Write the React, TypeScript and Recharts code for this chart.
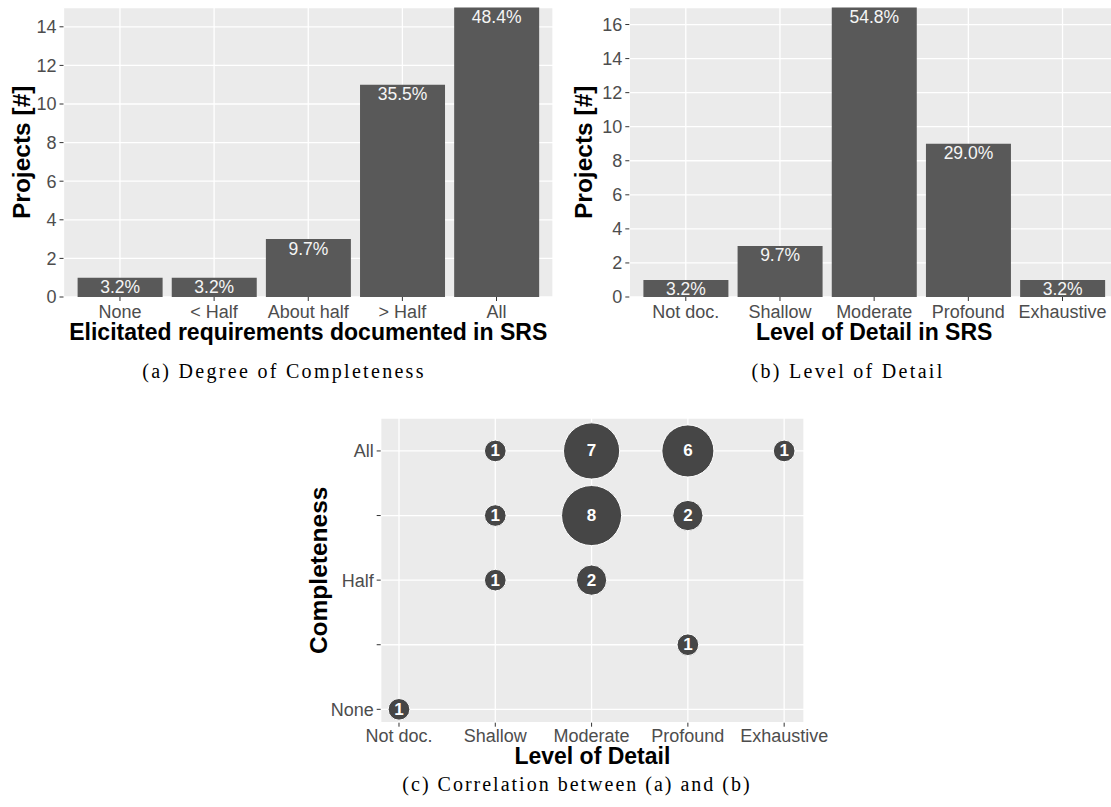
import React from "react";
import {
  BarChart,
  Bar,
  ScatterChart,
  Scatter,
  XAxis,
  YAxis,
  ZAxis,
  CartesianGrid,
  LabelList,
} from "recharts";

// (a) completeness
const completenessLevels = ["None", "< Half", "About half", "> Half", "All"];
const completenessCounts = [1, 1, 3, 11, 15];
const completenessTicks = [0, 2, 4, 6, 8, 10, 12, 14];

// (b) level of detail
const detailLevels = ["Not doc.", "Shallow", "Moderate", "Profound", "Exhaustive"];
const detailCounts = [1, 3, 17, 9, 1];
const detailTicks = [0, 2, 4, 6, 8, 10, 12, 14, 16];

// (c) correlation bubbles
const bubbleDetail = ["Shallow", "Moderate", "Profound", "Exhaustive", "Shallow", "Moderate", "Profound", "Shallow", "Moderate", "Profound", "Not doc."];
const bubbleCompleteness = ["All", "All", "All", "All", "> Half", "> Half", "> Half", "About half", "About half", "< Half", "None"];
const bubbleCounts = [1, 7, 6, 1, 1, 8, 2, 1, 2, 1, 1];
const bubbleYLabels = ["None", "", "Half", "", "All"];

const total = completenessCounts.reduce((a, b) => a + b, 0);
const pct = (v: number) => ((v / total) * 100).toFixed(1) + "%";

const dataA = completenessLevels.map((name, i) => ({
  name,
  count: completenessCounts[i],
  pct: pct(completenessCounts[i]),
}));
const dataB = detailLevels.map((name, i) => ({
  name,
  count: detailCounts[i],
  pct: pct(detailCounts[i]),
}));
const dataC = bubbleCounts.map((n, i) => ({
  x: detailLevels.indexOf(bubbleDetail[i]),
  y: completenessLevels.indexOf(bubbleCompleteness[i]),
  n,
}));

const SANS = "'Liberation Sans', Arial, Helvetica, sans-serif";
const SERIF = "'Liberation Serif', 'DejaVu Serif', serif";
const PANEL = "#EBEBEB";
const TICK = { fill: "#4D4D4D", fontSize: 18 };
const TITLE = { fill: "#000", fontSize: 23, fontWeight: "bold" as const };
const VTITLE = { ...TITLE, fontSize: 24.5, textAnchor: "middle" as const };

function Bubble(props: any) {
  const { cx, cy, width, size, payload } = props;
  const r = width ? width / 2 : Math.sqrt(size / Math.PI);
  return (
    <g>
      <circle cx={cx} cy={cy} r={r} fill="#464646" stroke="#fff" strokeWidth={1} />
      <text
        x={cx}
        y={cy}
        textAnchor="middle"
        dominantBaseline="central"
        fill="#fff"
        fontSize={17}
        fontWeight="bold"
      >
        {payload.n}
      </text>
    </g>
  );
}

function CountBars({ data, ticks, max, yWidth, titleX, xTitle, right }: any) {
  return (
    <BarChart
      width={560}
      height={350}
      data={data}
      margin={{ top: 350 - 53 - (297 - 7.5), right, left: 0, bottom: 0 }}
      barCategoryGap="5%"
    >
      <CartesianGrid fill={PANEL} fillOpacity={1} stroke="#fff" strokeWidth={1.3} />
      <XAxis
        dataKey="name"
        height={53}
        padding={{ left: 9.4, right: 9.4 }}
        axisLine={false}
        tickLine={{ stroke: "#333" }}
        tickSize={4}
        tickMargin={4}
        tick={TICK}
        interval={0}
        label={{ value: xTitle, position: "insideBottom", offset: 10.5, style: TITLE }}
      />
      <YAxis
        type="number"
        domain={[0, max]}
        ticks={ticks}
        width={yWidth}
        axisLine={false}
        tickLine={{ stroke: "#333" }}
        tickSize={4}
        tickMargin={3}
        tick={TICK}
        label={{
          value: "Projects [#]",
          angle: -90,
          position: "insideLeft",
          offset: titleX,
          style: VTITLE,
        }}
      />
      <Bar dataKey="count" fill="#595959" isAnimationActive={false}>
        <LabelList dataKey="pct" position="insideTop" offset={3} fill="#F5F5F5" fontSize={17.5} />
      </Bar>
    </BarChart>
  );
}

export default function App() {
  return (
    <div
      style={{
        position: "absolute",
        left: 0,
        top: 0,
        width: 1111,
        height: 807,
        overflow: "hidden",
        background: "#fff",
        fontFamily: SANS,
      }}
    >
      <div style={{ position: "absolute", left: 0, top: 0 }}>
        <CountBars
          data={dataA}
          ticks={completenessTicks}
          max={15}
          yWidth={63.5}
          titleX={21}
          right={7}
          xTitle="Elicitated requirements documented in SRS"
        />
      </div>
      <div style={{ position: "absolute", left: 560, top: 0 }}>
        <CountBars
          data={dataB}
          ticks={detailTicks}
          max={17}
          yWidth={69.3}
          titleX={23.5}
          right={1}
          xTitle="Level of Detail in SRS"
        />
      </div>
      <div style={{ position: "absolute", left: 290, top: 400 }}>
        <ScatterChart width={570} height={380} margin={{ top: 18, right: 56, left: 0, bottom: 0 }}>
          <CartesianGrid fill={PANEL} fillOpacity={1} stroke="#fff" strokeWidth={1.3} />
          <XAxis
            type="number"
            dataKey="x"
            domain={[-0.19, 4.206]}
            ticks={[0, 1, 2, 3, 4]}
            tickFormatter={(v: number) => detailLevels[v]}
            allowDataOverflow
            height={57.3}
            axisLine={false}
            tickLine={{ stroke: "#333" }}
            tickSize={4}
            tickMargin={3}
            tick={TICK}
            interval={0}
            label={{ value: "Level of Detail", position: "insideBottom", offset: 16.5, style: TITLE }}
          />
          <YAxis
            type="number"
            dataKey="y"
            domain={[-0.207, 4.51]}
            ticks={[0, 1, 2, 3, 4]}
            tickFormatter={(v: number) => bubbleYLabels[v]}
            allowDataOverflow
            width={90.7}
            axisLine={false}
            tickLine={{ stroke: "#333" }}
            tickSize={4}
            tickMargin={3}
            tick={TICK}
            interval={0}
            label={{
              value: "Completeness",
              angle: -90,
              position: "insideLeft",
              offset: 28,
              style: VTITLE,
            }}
          />
          <ZAxis type="number" dataKey="n" domain={[1, 8]} range={[368, 2831]} />
          <Scatter data={dataC} shape={Bubble} isAnimationActive={false} />
        </ScatterChart>
      </div>
      <svg
        width={1111}
        height={807}
        style={{ position: "absolute", left: 0, top: 0, pointerEvents: "none" }}
      >
        <g fontFamily={SERIF} fontSize={20} fill="#000" textAnchor="middle" letterSpacing={2.3}>
          <text x={284} y={378}>(a) Degree of Completeness</text>
          <text x={848} y={378}>(b) Level of Detail</text>
          <text x={577} y={791} letterSpacing={2}>(c) Correlation between (a) and (b)</text>
        </g>
      </svg>
    </div>
  );
}
